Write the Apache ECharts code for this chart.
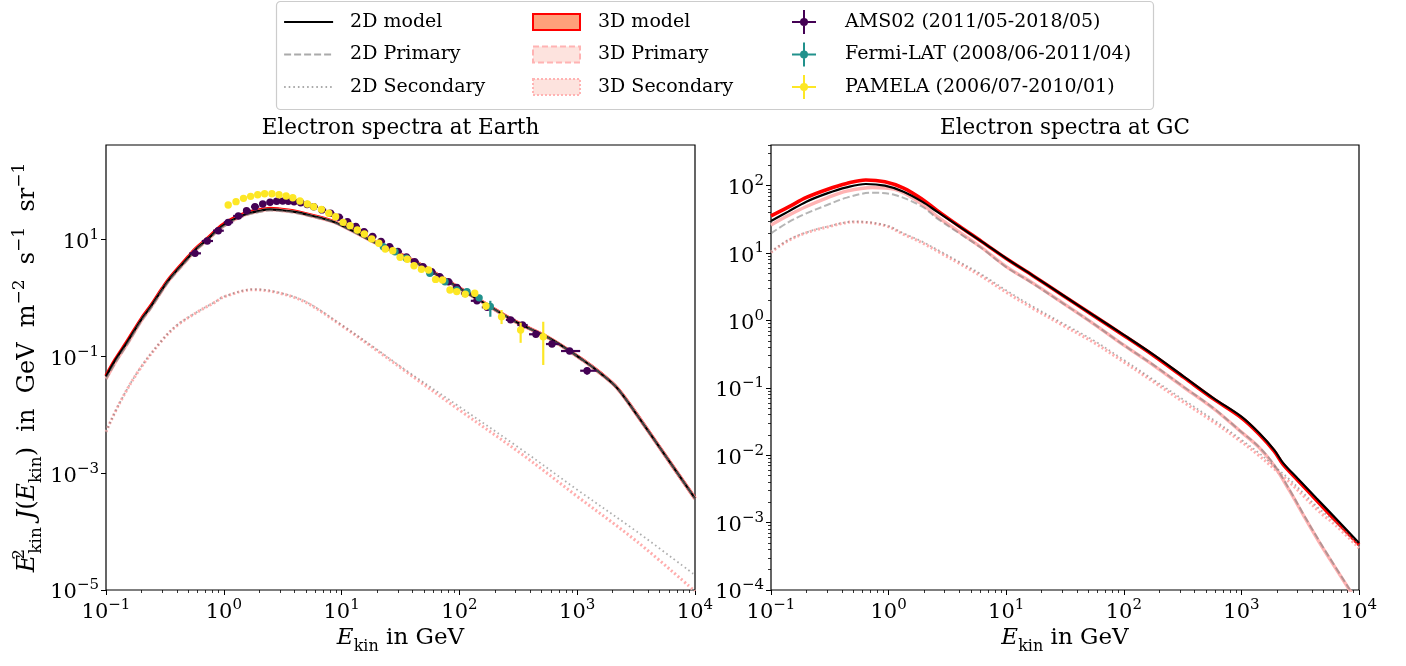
<!DOCTYPE html>
<html><head><meta charset="utf-8">
<script src="https://cdn.jsdelivr.net/npm/echarts@6/dist/echarts.min.js"></script>
<style>html,body{margin:0;padding:0;background:#fff}#c{width:1406px;height:666px}</style>
</head><body><div id="c"></div>
<script>
// ---------------- data ----------------
const xMajorTicks = [0.1, 1, 10, 100, 1000, 10000];
const yMajorEarth = [1e-5, 1e-3, 1e-1, 10];
const yMajorGC = [1e-4, 1e-3, 1e-2, 1e-1, 1, 10, 100];

// Earth panel, models
const earthE = [0.1,0.12,0.15,0.2,0.24,0.3,0.35,0.5,0.57,0.7,1,1.47,2,2.47,3,3.9,5,8.5,11.2,19.8,41.7,100,155,300,581,1120,1600,2170,3010,4660,10000];
const earth2DModel = [0.045,0.086,0.17,0.43,0.71,1.4,2.16,4.9,6.6,9.4,17.7,26.2,30.8,32.7,31.8,29.9,26.8,20.1,15.5,8.6,4.16,1.46,0.86,0.39,0.203,0.086,0.050,0.029,0.012,0.0034,0.00037];
const earth2DPrimary = [0.040,0.077,0.155,0.40,0.66,1.32,2.05,4.65,6.3,9.0,16.7,25.0,29.4,31.4,30.6,28.9,26.0,19.6,15.2,8.45,4.1,1.44,0.85,0.386,0.201,0.0853,0.0496,0.0288,0.0119,0.00337,0.000366];
const earth3DModel = [0.046,0.088,0.175,0.44,0.73,1.44,2.22,5.05,6.8,9.7,18.3,27.2,32.0,33.9,32.8,30.6,27.3,20.4,15.7,8.7,4.2,1.47,0.865,0.392,0.204,0.0863,0.0502,0.0291,0.0121,0.0034,0.00037];
const earth3DPrimary = [0.041,0.079,0.158,0.41,0.68,1.35,2.1,4.75,6.45,9.2,17.1,25.8,30.4,32.4,31.5,29.6,26.5,19.9,15.4,8.55,4.14,1.45,0.855,0.388,0.202,0.0856,0.0498,0.0289,0.012,0.00338,0.000367];
const earthSecE = [0.1,0.13,0.19,0.3,0.4,0.6,0.85,1,1.8,3,5,10,20,35,100,340,1000,3200,10000];
const earth2DSecondary = [0.0051,0.0157,0.058,0.19,0.34,0.58,0.86,1.05,1.4,1.22,0.85,0.345,0.13,0.058,0.0137,0.0025,0.00052,0.0001,0.000018];
const earth3DSecondary = [0.0051,0.0156,0.057,0.188,0.335,0.575,0.85,1.04,1.38,1.2,0.83,0.335,0.125,0.055,0.012,0.0021,0.0004,0.000068,0.0000095];

// GC panel, models
const gcE = [0.1,0.14,0.2,0.3,0.44,0.64,0.93,1.34,1.93,2.58,4,6.2,10,17,30.6,55,100,180,324,582,1000,1410,1900,2260,3000,4350,6300,10000];
const gc2DModel = [29.9,41.2,58,77,94.6,106,100,81.6,58,41.2,24.7,14.8,8.36,4.6,2.35,1.2,0.61,0.308,0.147,0.070,0.0374,0.0215,0.012,0.0077,0.00455,0.0023,0.00117,0.0005];
const gc3DModel = [35.6,48,67,88,108,121.6,114,92,63,43,25,14.8,8.3,4.57,2.33,1.19,0.60,0.30,0.143,0.068,0.036,0.0207,0.0115,0.0073,0.0043,0.00215,0.00108,0.00047];
const gcPrimE = [0.1,0.14,0.2,0.3,0.44,0.73,1.13,1.93,2.58,4,6.2,10,17,30.6,55,100,180,324,582,1000,1410,1900,2560,3440,4600,6300,8400,10000];
const gc2DPrimary = [19.6,28.6,38.9,51.7,66.5,78.9,72.8,48.9,32.8,19.6,11.8,6.2,3.5,1.78,0.9,0.43,0.217,0.103,0.0495,0.0222,0.0133,0.0072,0.0031,0.00125,0.00053,0.00022,0.0001,0.000062];
const gc3DPrimary = [26,36,49,66,83,94,88,53,35,20.5,12,6.3,3.55,1.79,0.9,0.43,0.214,0.102,0.049,0.022,0.0131,0.0070,0.003,0.00121,0.00051,0.000213,0.000097,0.00006];
const gcSecE = [0.1,0.14,0.2,0.3,0.51,0.93,1.34,1.93,2.78,4,6.2,10,17,30.6,55,100,180,324,582,1000,1410,1900,2560,3440,4600,6300,10000];
const gc2DSecondary = [10.5,15.6,20.3,24.7,29.3,26.1,19.6,14.8,10.5,7.4,4.8,2.8,1.6,0.9,0.51,0.26,0.131,0.066,0.0335,0.017,0.0108,0.0069,0.0044,0.00265,0.0016,0.00102,0.00047];
const gc3DSecondary = [10.3,15.3,20,24.3,29,25.6,19,14.2,10,7.0,4.5,2.62,1.5,0.84,0.475,0.242,0.122,0.061,0.031,0.0158,0.0099,0.0063,0.004,0.0024,0.00145,0.00092,0.00042];

// measurements (Earth panel)
const amsE = [0.57,0.724,0.898,1.09,1.33,1.56,1.84,2.14,2.47,2.81,3.16,3.53,3.95,4.5,5.1,5.8,6.8,8.05,9.5,11.2,13.2,15.5,18.3,21.6,25.5,30,35.5,41.7,49,58,68,80.7,95,112,141,172,272,343,446,611,862,1213];
const amsV = [5.78,9.4,14.1,19.6,25.2,31,36.3,40.4,43.2,44.9,45.3,44.9,44,42.5,39.5,36.3,32,28,24,20.1,16.6,13.6,11.2,9.2,7.5,6.2,5.0,4.16,3.4,2.8,2.3,1.89,1.5,1.19,0.89,0.69,0.42,0.343,0.238,0.162,0.123,0.0566];
const amsElo = [0.51,0.65,0.81,1.0,1.2,1.46,1.7,2.0,2.3,2.65,3.0,3.36,3.73,4.2,4.8,5.45,6.3,7.4,8.7,10.3,12.1,14.3,16.8,19.8,23.4,27.6,32.6,38.5,45.2,53.2,62.8,74,87.5,103,125,155,248,310,390,543,729,1060];
const amsEhi = [0.64,0.81,1.0,1.2,1.46,1.7,2.0,2.3,2.65,3.0,3.36,3.73,4.2,4.8,5.45,6.3,7.4,8.7,10.3,12.1,14.3,16.8,19.8,23.4,27.6,32.6,38.5,45.2,53.2,62.8,74,87.5,103,125,155,190,298,380,490,708,1060,1460];
const amsVerr = [0,0,0,0,0,0,0,0,0,0,0,0,0,0,0,0,0,0,0,0,0,0,0,0,0,0,0,0,0,0,0,0,0,0,0,0,0,0,0.013,0.012,0.011,0.008];

const fermiE = [22.6,28.4,35.4,56.1,75.5,95,116,147,183];
const fermiV = [7.5,6.17,4.75,2.63,1.89,1.36,1.28,1.0,0.71];
const fermiErrDown = [0,0,0,0,0,0,0.05,0.07,0.235];
const fermiErrUp = [0,0,0,0,0,0,0.05,0.07,0.18];

const pamE = [1.09,1.27,1.47,1.69,1.94,2.22,2.56,2.94,3.38,3.85,4.43,5.12,5.8,6.74,7.78,8.89,10.3,11.8,13.6,15.6,18,20.7,23.5,27.2,31.4,36.1,41.2,47.6,54.7,62.8,71.9,83.2,95,112,135,168,228,331,515];
const pamV = [38.8,44.3,50.5,54.6,58.3,60.6,60.6,58.3,55.4,51.8,45.4,40.4,36.3,32.7,28,24.5,19.6,17.2,14.5,12.4,10.2,8.6,6.86,6.41,4.94,4.57,3.55,3.08,3.0,2.07,2.02,1.36,1.28,1.16,1.2,0.726,0.477,0.282,0.216];
const pamErrDown = [0,0,0,0,0,0,0,0,0,0,0,0,0,0,0,0,0,0,0,0,0,0,0,0,0,0,0,0,0,0,0,0,0,0,0,0.1,0.121,0.112,0.145];
const pamErrUp = [0,0,0,0,0,0,0,0,0,0,0,0,0,0,0,0,0,0,0,0,0,0,0,0,0,0,0,0,0,0,0,0,0,0,0,0.1,0.143,0.094,0.174];

// ---------------- chart ----------------
const FONT = 'DejaVu Serif';
const earthYMax = Math.pow(10, 2.616);
const gcYMax = Math.pow(10, 2.604);
function minorTicks(d0, d1, maxV) {
  const out = [];
  for (let d = d0; d <= d1; d++) for (let k = 2; k <= 9; k++) { const v = k * Math.pow(10, d); if (v <= maxV) out.push(v); }
  return out;
}
const xMinorTicks = minorTicks(-1, 3, 1e4);
const yMinorGC = minorTicks(-4, 2, gcYMax);

function expFmt(v) {
  const e = Math.round(Math.log10(v));
  return '{b|10}{e|' + String(e).replace('-', '\u2212') + '}';
}
const labelRich = {
  b: {fontSize: 21, fontFamily: FONT, lineHeight: 30, color: '#000'},
  e: {fontSize: 15, fontFamily: FONT, lineHeight: 16, verticalAlign: 'top', color: '#000'}
};
function nameRich(fs, ss) {
  return {
    i: {fontSize: fs, fontFamily: FONT, fontStyle: 'italic', lineHeight: 34, color: '#000'},
    n: {fontSize: fs, fontFamily: FONT, lineHeight: 34, color: '#000'},
    sp: {fontSize: ss, fontFamily: FONT, lineHeight: 16, verticalAlign: 'top', color: '#000'},
    s0: {fontSize: ss, fontFamily: FONT, lineHeight: 16, verticalAlign: 'top', color: '#000', width: 1},
    sb: {fontSize: ss, fontFamily: FONT, lineHeight: 21, verticalAlign: 'bottom', color: '#000'}
  };
}
const xName = '{i|E}{sb|kin}{n| in GeV}';
const yName = '{i|E}{s0|2}{sb|kin}{n| }{i|J}{n|(}{i|E}{sb|kin}{n|)  in  GeV  m}{sp|\u22122}{n|  s}{sp|\u22121}{n|  sr}{sp|\u22121}';

function mainX(gi) {
  return {
    type: 'log', logBase: 10, gridIndex: gi, position: 'bottom', min: 0.1, max: 1e4,
    axisLine: {show: false}, splitLine: {show: false},
    axisTick: {show: true, inside: false, length: 5, customValues: xMajorTicks, lineStyle: {color: '#000', width: 1}},
    axisLabel: {show: true, customValues: xMajorTicks, formatter: expFmt, margin: 8, lineHeight: 30, rich: labelRich},
    name: xName, nameLocation: 'middle', nameGap: 31, nameMoveOverlap: false,
    nameTextStyle: {rich: nameRich(23, 16), lineHeight: 34}
  };
}
function minorX(gi) {
  return {
    type: 'log', logBase: 10, gridIndex: gi, position: 'bottom', min: 0.1, max: 1e4,
    axisLine: {show: false}, splitLine: {show: false}, axisLabel: {show: false},
    axisTick: {show: true, inside: false, length: 3, customValues: xMinorTicks, lineStyle: {color: '#000', width: 0.8}}
  };
}

const legendText = {fontFamily: FONT, fontSize: 19, color: '#000', lineHeight: 26};
const crossIcon = 'path://M11,0h2v11h11v2h-11v11h-2v-11h-11v-2h11z M16,12a4,4 0 1,1 -8,0a4,4 0 1,1 8,0z';

const option = {
  animation: false,
  backgroundColor: '#fff',
  grid: [
    {left: 106, top: 145, width: 589, height: 445, show: true, borderColor: '#000', borderWidth: 1.2, backgroundColor: 'rgba(0,0,0,0)', containLabel: false, outerBoundsMode: 'none'},
    {left: 771, top: 145, width: 588, height: 445, show: true, borderColor: '#000', borderWidth: 1.2, backgroundColor: 'rgba(0,0,0,0)', containLabel: false, outerBoundsMode: 'none'}
  ],
  xAxis: [mainX(0), minorX(0), mainX(1), minorX(1)],
  yAxis: [
    {
      type: 'log', logBase: 10, gridIndex: 0, position: 'left', min: 1e-5, max: earthYMax,
      axisLine: {show: false}, splitLine: {show: false},
      axisTick: {show: true, length: 5, customValues: yMajorEarth, lineStyle: {color: '#000', width: 1}},
      axisLabel: {customValues: yMajorEarth, formatter: expFmt, margin: 7, lineHeight: 30, padding: [6, 0, 0, 0], rich: labelRich},
      name: yName, nameLocation: 'middle', nameRotate: 90, nameGap: 61, nameMoveOverlap: false,
      nameTextStyle: {rich: nameRich(24, 17), lineHeight: 34}
    },
    {
      type: 'log', logBase: 10, gridIndex: 1, position: 'left', min: 1e-4, max: gcYMax,
      axisLine: {show: false}, splitLine: {show: false},
      axisTick: {show: true, length: 5, customValues: yMajorGC, lineStyle: {color: '#000', width: 1}},
      axisLabel: {customValues: yMajorGC, formatter: expFmt, margin: 7, lineHeight: 30, padding: [6, 0, 0, 0], rich: labelRich}
    },
    {
      type: 'log', logBase: 10, gridIndex: 1, position: 'left', min: 1e-4, max: gcYMax,
      axisLine: {show: false}, splitLine: {show: false}, axisLabel: {show: false},
      axisTick: {show: true, length: 3, customValues: yMinorGC, lineStyle: {color: '#000', width: 0.8}}
    }
  ],
  legend: [
    {
      left: 283, top: 9, padding: 0, orient: 'vertical', itemWidth: 49, itemHeight: 16, itemGap: 6.5, selectedMode: false,
      textStyle: Object.assign({padding: [0, 0, 0, 12]}, legendText),
      data: [
        {name: '2D model', itemStyle: {opacity: 0}, lineStyle: {color: '#000', width: 2.2, type: 'solid'}},
        {name: '2D Primary', itemStyle: {opacity: 0}, lineStyle: {color: '#aaaaaa', width: 2, type: [7, 3]}},
        {name: '2D Secondary', itemStyle: {opacity: 0}, lineStyle: {color: '#aaaaaa', width: 1.8, type: [1.6, 3]}}
      ]
    },
    {
      left: 532, top: 9, padding: 0, orient: 'vertical', itemWidth: 47, itemHeight: 16, itemGap: 6.5, selectedMode: false,
      textStyle: Object.assign({padding: [0, 0, 0, 13]}, legendText),
      data: [
        {name: '3D model', icon: 'rect', itemStyle: {color: '#ffa07a', borderColor: '#ff0000', borderWidth: 2}},
        {name: '3D Primary', icon: 'rect', itemStyle: {color: '#fde3de', borderColor: '#ffb3b3', borderWidth: 2, borderType: [6, 3]}},
        {name: '3D Secondary', icon: 'rect', itemStyle: {color: '#fde3de', borderColor: '#ffb3b3', borderWidth: 2, borderType: [2, 2]}}
      ]
    },
    {
      left: 792, top: 9, padding: 0, orient: 'vertical', itemWidth: 24, itemHeight: 24, itemGap: 6.5, selectedMode: false,
      textStyle: Object.assign({padding: [0, 0, 0, 24]}, legendText),
      data: [
        {name: 'AMS02 (2011/05-2018/05)', icon: crossIcon, itemStyle: {color: '#440154'}},
        {name: 'Fermi-LAT (2008/06-2011/04)', icon: crossIcon, itemStyle: {color: '#21918c'}},
        {name: 'PAMELA (2006/07-2010/01)', icon: crossIcon, itemStyle: {color: '#fde725'}}
      ]
    }
  ],
  graphic: [
    {type: 'rect', shape: {x: 276.5, y: 1.5, width: 877, height: 108, r: 4}, style: {fill: '#fff', stroke: '#cccccc', lineWidth: 1.2}, z: 0},
    {type: 'text', x: 400.5, y: 128, style: {text: 'Electron spectra at Earth', fontSize: 21.5, fontFamily: FONT, fill: '#000', align: 'center', verticalAlign: 'middle'}},
    {type: 'text', x: 1065, y: 128, style: {text: 'Electron spectra at GC', fontSize: 21.5, fontFamily: FONT, fill: '#000', align: 'center', verticalAlign: 'middle'}}
  ],
  series: []
};

function zip(xs, ys) { return xs.map((x, i) => [x, ys[i]]); }
const styles = {
  '3D model': {color: '#ff0000', width: 3.6, type: 'solid'},
  '3D Primary': {color: '#ffb3b3', width: 3.4, type: 'solid'},
  '3D Secondary': {color: '#ffadad', width: 3, type: [2, 2.4]},
  '2D model': {color: '#000000', width: 2.2, type: 'solid'},
  '2D Primary': {color: 'rgba(120,120,120,0.55)', width: 2, type: [7, 3]},
  '2D Secondary': {color: 'rgba(120,120,120,0.6)', width: 1.8, type: [1.6, 3]}
};
function addLine(name, xi, yi, xs, ys) {
  const s = styles[name];
  option.series.push({
    type: 'line', name: name, xAxisIndex: xi, yAxisIndex: yi, data: zip(xs, ys),
    symbol: 'none', smooth: 0.35, clip: true, silent: true, color: s.color,
    lineStyle: {color: s.color, width: s.width, type: s.type, cap: 'butt'}
  });
}
// Earth panel
addLine('3D model', 0, 0, earthE, earth3DModel);
addLine('3D Primary', 0, 0, earthE, earth3DPrimary);
addLine('3D Secondary', 0, 0, earthSecE, earth3DSecondary);
addLine('2D model', 0, 0, earthE, earth2DModel);
addLine('2D Primary', 0, 0, earthE, earth2DPrimary);
addLine('2D Secondary', 0, 0, earthSecE, earth2DSecondary);
// GC panel
addLine('3D model', 2, 1, gcE, gc3DModel);
addLine('3D Primary', 2, 1, gcPrimE, gc3DPrimary);
addLine('3D Secondary', 2, 1, gcSecE, gc3DSecondary);
addLine('2D model', 2, 1, gcE, gc2DModel);
addLine('2D Primary', 2, 1, gcPrimE, gc2DPrimary);
addLine('2D Secondary', 2, 1, gcSecE, gc2DSecondary);

function errRender(color) {
  return function (params, api) {
    const E = api.value(0), v = api.value(1);
    const p = api.coord([E, v]);
    const xl = api.coord([api.value(2), v])[0];
    const xh = api.coord([api.value(3), v])[0];
    const yl = api.coord([E, api.value(4)])[1];
    const yh = api.coord([E, api.value(5)])[1];
    const st = {stroke: color, lineWidth: 2.2};
    return {type: 'group', children: [
      {type: 'line', shape: {x1: xl, y1: p[1], x2: xh, y2: p[1]}, style: st},
      {type: 'line', shape: {x1: p[0], y1: yl, x2: p[0], y2: yh}, style: st},
      {type: 'circle', shape: {cx: p[0], cy: p[1], r: 3.7}, style: {fill: color}}
    ]};
  };
}
function addData(name, color, rows) {
  option.series.push({
    type: 'custom', name: name, xAxisIndex: 0, yAxisIndex: 0, data: rows,
    encode: {x: 0, y: 1}, renderItem: errRender(color), silent: true, color: color, z: 5
  });
}
addData('AMS02 (2011/05-2018/05)', '#440154', amsE.map((e, i) => [e, amsV[i], amsElo[i], amsEhi[i], amsV[i] - amsVerr[i], amsV[i] + amsVerr[i]]));
addData('Fermi-LAT (2008/06-2011/04)', '#21918c', fermiE.map((e, i) => [e, fermiV[i], e, e, fermiV[i] - fermiErrDown[i], fermiV[i] + fermiErrUp[i]]));
addData('PAMELA (2006/07-2010/01)', '#fde725', pamE.map((e, i) => [e, pamV[i], e, e, pamV[i] - pamErrDown[i], pamV[i] + pamErrUp[i]]));

const chart = echarts.init(document.getElementById('c'), null, {renderer: 'canvas'});
chart.setOption(option);
</script></body></html>
